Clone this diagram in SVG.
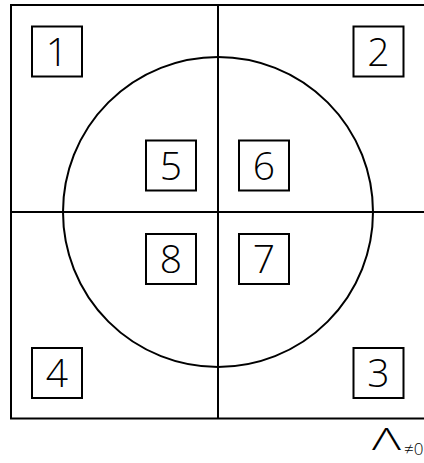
<svg xmlns="http://www.w3.org/2000/svg" width="424" height="463" viewBox="0 0 424 463">
<style>
.ln{fill:none;stroke:#000;stroke-width:2}
.bx{fill:#fff;stroke:#000;stroke-width:2}
.num{font-family:"Open Sans","Noto Sans",sans-serif;font-weight:300;font-size:39px;text-anchor:middle;fill:#000}
.lab{font-family:"Open Sans","Noto Sans",sans-serif;font-weight:300;fill:#000}
</style>
<rect width="424" height="463" fill="#fff"/>
<g id="connectors">
<rect class="ln" x="11" y="5" width="414" height="413.5"/>
<line class="ln" x1="218" y1="5" x2="218" y2="418.5"/>
<line class="ln" x1="11" y1="212" x2="425" y2="212"/>
<circle class="ln" cx="218" cy="212" r="155"/>
</g>
<g id="n1"><rect class="bx" x="32" y="26.5" width="50" height="50"/><text class="num" x="57" y="65.5">1</text></g>
<g id="n2"><rect class="bx" x="353.5" y="26.5" width="50" height="50"/><text class="num" x="378.5" y="65.5">2</text></g>
<g id="n3"><rect class="bx" x="353.5" y="348" width="50" height="50"/><text class="num" x="378.5" y="387">3</text></g>
<g id="n4"><rect class="bx" x="32" y="348" width="50" height="50"/><text class="num" x="57" y="387">4</text></g>
<g id="n5"><rect class="bx" x="146" y="140.5" width="50" height="50"/><text class="num" x="171" y="179.5">5</text></g>
<g id="n6"><rect class="bx" x="239" y="140.5" width="50" height="50"/><text class="num" x="264" y="179.5">6</text></g>
<g id="n7"><rect class="bx" x="239" y="234" width="50" height="50"/><text class="num" x="264" y="273">7</text></g>
<g id="n8"><rect class="bx" x="146" y="234" width="50" height="50"/><text class="num" x="171" y="273">8</text></g>
<g id="label"><text class="lab" x="372" y="450" font-size="31" textLength="29" lengthAdjust="spacingAndGlyphs">Λ</text><text class="lab" x="404" y="455" font-size="17">≠0</text></g>
</svg>
